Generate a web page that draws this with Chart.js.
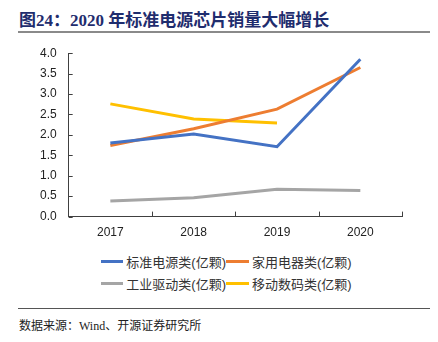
<!DOCTYPE html>
<html>
<head>
<meta charset="utf-8">
<script src="https://cdn.jsdelivr.net/npm/chart.js@4"></script>
<style>
  body { margin: 0; background: #fff; width: 438px; height: 342px; position: relative; overflow: hidden; }
  #title { position: absolute; left: 19px; top: 6px; font: bold 17px "Liberation Serif", "Noto Sans CJK SC"; color: #1f2d6e; white-space: nowrap; }
  #titleLine { position: absolute; left: 18px; top: 31px; width: 412px; height: 2px; background: #8a8a8a; }
  #wrap { position: absolute; left: 0; top: 34px; width: 438px; height: 215px; }
  #legend { position: absolute; left: 101px; top: 252px; width: 260px; display: grid; grid-template-columns: 125px 135px; row-gap: 4px; }
  .item { display: flex; align-items: center; font: 13px "Liberation Sans", "Noto Sans CJK SC"; color: #333; height: 18px; white-space: nowrap; }
  .sw { width: 23px; height: 3px; margin-right: 3px; }
  #footLine { position: absolute; left: 18px; top: 308px; width: 412px; height: 1px; background: #555; }
  #foot { position: absolute; left: 19px; top: 316px; font: 12px "Liberation Serif", "Noto Sans CJK SC"; color: #222; white-space: nowrap; }
</style>
</head>
<body>
<div id="title">图24：2020 年标准电源芯片销量大幅增长</div>
<div id="titleLine"></div>
<div id="wrap"><canvas id="c"></canvas></div>
<div id="legend"></div>
<div id="footLine"></div>
<div id="foot">数据来源：Wind、开源证券研究所</div>
<script>
const years = ["2017", "2018", "2019", "2020"];
const powerStd = [1.80, 2.02, 1.71, 3.85];
const homeAppl = [1.74, 2.15, 2.63, 3.65];
const industrial = [0.38, 0.46, 0.67, 0.64];
const mobile = [2.76, 2.39, 2.29, null];
const names = ["标准电源类(亿颗)", "家用电器类(亿颗)", "工业驱动类(亿颗)", "移动数码类(亿颗)"];
const colors = ["#4472c4", "#ed7d31", "#a5a5a5", "#ffc000"];

// tick marks pointing into the plot
const innerTicks = {
  id: "innerTicks",
  afterDraw(chart) {
    const ctx = chart.ctx;
    const x = chart.scales.x, y = chart.scales.y;
    ctx.save();
    ctx.strokeStyle = "#404040";
    ctx.lineWidth = 1;
    ctx.beginPath();
    y.ticks.forEach((t) => {
      const py = Math.round(y.getPixelForValue(t.value)) + 0.5;
      ctx.moveTo(x.left, py);
      ctx.lineTo(x.left + 4, py);
    });
    for (let i = 0; i < years.length; i++) {
      const px = Math.round(x.getPixelForValue(i) + (x.getPixelForValue(1) - x.getPixelForValue(0)) / 2) + 0.5;
      ctx.moveTo(px, y.bottom);
      ctx.lineTo(px, y.bottom - 5);
    }
    ctx.stroke();
    ctx.restore();
  }
};

const series = [powerStd, homeAppl, industrial, mobile];

const chart = new Chart(document.getElementById("c"), {
  type: "line",
  data: {
    labels: years,
    datasets: series.map((d, i) => ({
      label: names[i],
      data: d,
      borderColor: colors[i],
      backgroundColor: colors[i],
      borderWidth: 3,
      pointRadius: 0,
      tension: 0,
      spanGaps: false
    }))
  },
  options: {
    responsive: true,
    maintainAspectRatio: false,
    animation: false,
    layout: { padding: { left: 28, right: 36, top: 4, bottom: 0 } },
    plugins: { legend: { display: false }, tooltip: { enabled: false } },
    scales: {
      x: {
        offset: true,
        grid: { display: false, drawTicks: false },
        border: { display: true, color: "#404040", width: 1 },
        ticks: { color: "#222", font: { family: "Liberation Sans", size: 12 }, padding: 9 }
      },
      y: {
        min: 0, max: 4,
        grid: { display: false, drawTicks: false },
        border: { display: true, color: "#404040", width: 1 },
        ticks: {
          stepSize: 0.5,
          color: "#222",
          font: { family: "Liberation Sans", size: 12 },
          padding: 12,
          callback: (v) => v.toFixed(1)
        }
      }
    }
  },
  plugins: [innerTicks]
});

const legend = document.getElementById("legend");
names.forEach((n, i) => {
  const it = document.createElement("div");
  it.className = "item";
  it.innerHTML = '<span class="sw" style="background:' + colors[i] + '"></span>' + n;
  legend.appendChild(it);
});
</script>
</body>
</html>
